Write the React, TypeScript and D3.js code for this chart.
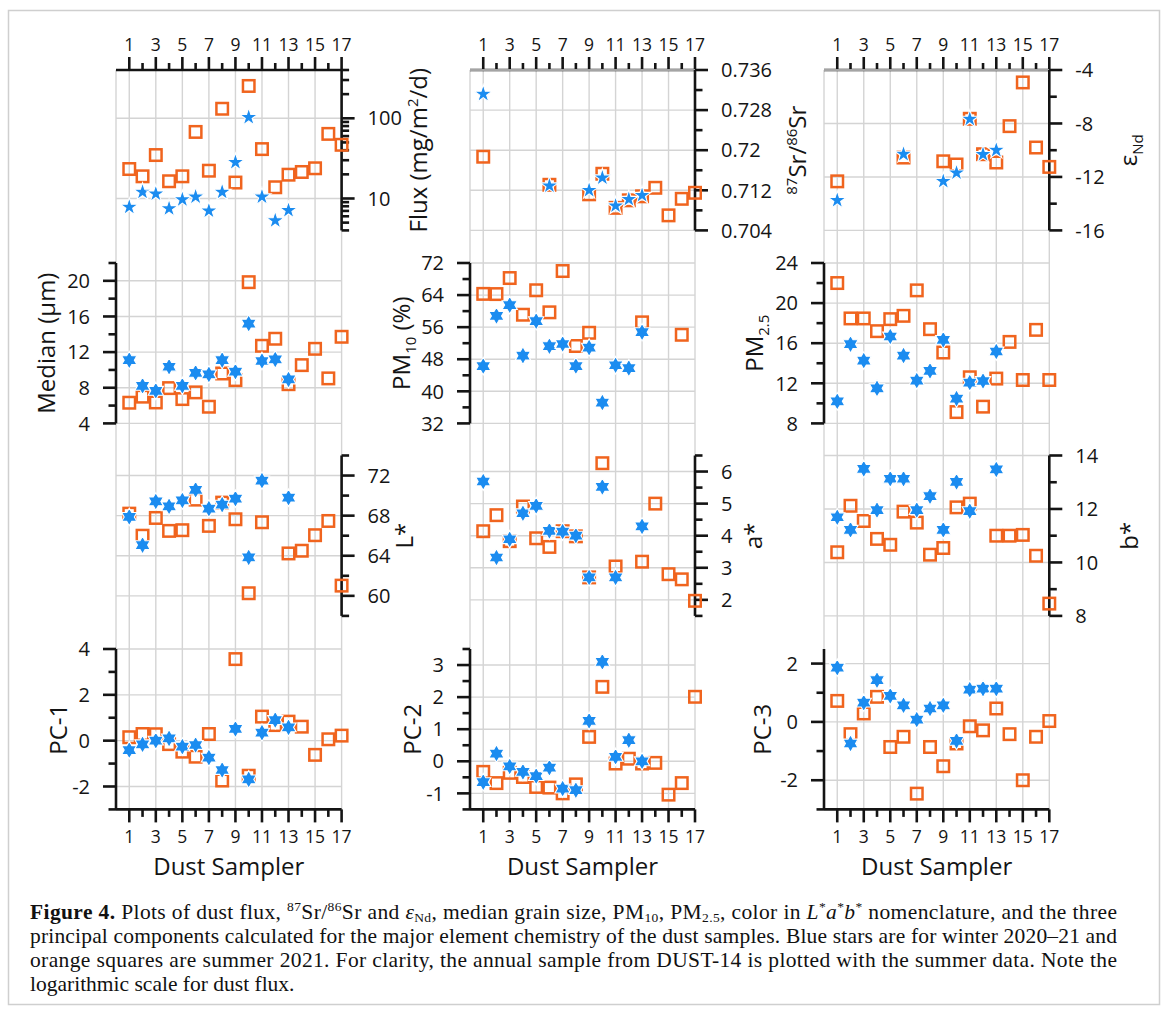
import React from "react";
import * as d3 from "d3";

// ---------------- data ----------------
const SAMPLERS = [1, 2, 3, 4, 5, 6, 7, 8, 9, 10, 11, 12, 13, 14, 15, 16, 17];
const X_LABELS = [1, 3, 5, 7, 9, 11, 13, 15, 17];
const X_MINOR = [2, 4, 6, 8, 10, 12, 14, 16];

type V = number | null;
const FLUX_WINTER: V[] = [7.8, 12.0, 11.4, 7.5, 9.7, 10.5, 7.0, 12.0, 28.2, 102.8, 10.5, 5.3, 7.1, null, null, null, null];
const FLUX_SUMMER: V[] = [23.3, 18.9, 34.8, 16.4, 18.9, 67.6, 22.2, 131.5, 15.8, 253, 41.3, 13.8, 19.8, 21.4, 23.8, 63.9, 46.7];

const SR_WINTER: V[] = [0.7312, null, null, null, null, 0.7129, null, null, 0.712, 0.7145, 0.7089, 0.7102, 0.711, null, null, null, null];
const SR_SUMMER: V[] = [0.7187, null, null, null, null, 0.7131, null, null, 0.7112, 0.7153, 0.7085, 0.71, 0.7108, 0.7125, 0.707, 0.7103, 0.7115];

const ND_WINTER: V[] = [-13.75, null, null, null, null, -10.3, null, null, -12.33, -11.7, -7.68, -10.32, -10.0, null, null, null, null];
const ND_SUMMER: V[] = [-12.33, null, null, null, null, -10.55, null, null, -10.83, -11.07, -7.65, -10.3, -10.92, -8.2, -4.93, -9.8, -11.25];

const MEDIAN_WINTER: V[] = [11.1, 8.22, 7.66, 10.36, 8.22, 9.68, 9.5, 11.1, 9.8, 15.2, 11.0, 11.18, 8.93, null, null, null, null];
const MEDIAN_SUMMER: V[] = [6.32, 7.0, 6.35, 7.96, 6.73, 7.48, 5.87, 9.6, 8.86, 19.85, 12.71, 13.5, 8.4, 10.54, 12.37, 9.05, 13.72];

const PM10_WINTER: V[] = [46.3, 58.8, 61.5, 48.9, 57.5, 51.25, 51.8, 46.3, 50.9, 37.2, 46.5, 45.8, 54.75, null, null, null, null];
const PM10_SUMMER: V[] = [64.3, 64.25, 68.25, 59.1, 65.2, 59.7, 70.0, 51.3, 54.6, null, null, null, 57.2, null, null, 54.1, null];

const PM25_WINTER: V[] = [10.2, 15.9, 14.27, 11.5, 16.67, 14.77, 12.27, 13.23, 16.33, 10.47, 12.07, 12.23, 15.17, null, null, null, null];
const PM25_SUMMER: V[] = [22.0, 18.47, 18.47, 17.2, 18.4, 18.73, 21.27, 17.4, 15.07, 9.13, 12.6, 9.67, 12.47, 16.13, 12.33, 17.33, 12.33];

const L_WINTER: V[] = [67.87, 65.06, 69.42, 68.93, 69.52, 70.58, 68.7, 69.1, 69.69, 63.83, 71.5, null, 69.79, null, null, null, null];
const L_SUMMER: V[] = [68.2, 66.0, 67.77, 66.48, 66.55, 69.6, 66.98, 69.3, 67.64, 60.26, 67.34, null, 64.23, 64.5, 66.05, 67.47, 61.02];

const A_WINTER: V[] = [5.69, 3.32, 3.89, 4.7, 4.93, 4.15, 4.13, 4.0, 2.7, 5.52, 2.7, null, 4.29, null, null, null, null];
const A_SUMMER: V[] = [4.14, 4.64, 3.83, 4.91, 3.92, 3.65, 4.14, 3.98, 2.7, 6.26, 3.04, null, 3.19, 5.0, 2.8, 2.64, 1.97];

const B_WINTER: V[] = [11.69, 11.22, 13.5, 11.96, 13.13, 13.13, 11.96, 12.48, 11.22, 13.01, 11.92, null, 13.48, null, null, null, null];
const B_SUMMER: V[] = [10.38, 12.12, 11.55, 10.88, 10.66, 11.9, 11.49, 10.29, 10.54, 12.06, 12.2, null, 11.0, 11.0, 11.03, 10.25, 8.46];

const PC1_WINTER: V[] = [-0.41, -0.16, 0.0, 0.1, -0.26, -0.19, -0.74, -1.28, 0.51, -1.69, 0.35, 0.9, 0.58, null, null, null, null];
const PC1_SUMMER: V[] = [0.15, 0.29, 0.28, -0.15, -0.48, -0.7, 0.29, -1.74, 3.56, -1.53, 1.05, 0.68, 0.83, 0.61, -0.62, 0.06, 0.22];

const PC2_WINTER: V[] = [-0.65, 0.24, -0.16, -0.33, -0.46, -0.2, -0.85, -0.9, 1.26, 3.1, 0.14, 0.66, 0.0, null, null, null, null];
const PC2_SUMMER: V[] = [-0.33, -0.68, -0.36, -0.49, -0.8, -0.82, -1.0, -0.72, 0.76, 2.32, -0.07, 0.08, -0.07, -0.05, -1.04, -0.68, 2.01];

const PC3_WINTER: V[] = [1.86, -0.74, 0.66, 1.43, 0.89, 0.57, 0.08, 0.46, 0.57, -0.65, 1.11, 1.14, 1.14, null, null, null, null];
const PC3_SUMMER: V[] = [0.72, -0.42, 0.29, 0.86, -0.86, -0.51, -2.46, -0.86, -1.52, -0.74, -0.15, -0.29, 0.46, -0.42, -2.0, -0.51, 0.03];

// tick values
const FLUX_MAJOR = [10, 100];
const FLUX_MINOR = [4, 5, 6, 7, 8, 9, 20, 30, 40, 50, 60, 70, 80, 90, 200, 300, 400];
const SR_MAJOR = [0.704, 0.712, 0.72, 0.728, 0.736];
const SR_MINOR = [0.708, 0.716, 0.724, 0.732];
const ND_MAJOR = [-16, -12, -8, -4];
const ND_MINOR = [-14, -10, -6];
const MEDIAN_MAJOR = [4, 8, 12, 16, 20];
const MEDIAN_MINOR = [6, 10, 14, 18, 22];
const PM10_MAJOR = [32, 40, 48, 56, 64, 72];
const PM10_MINOR = [36, 44, 52, 60, 68];
const PM25_MAJOR = [8, 12, 16, 20, 24];
const PM25_MINOR = [10, 14, 18, 22];
const L_MAJOR = [60, 64, 68, 72];
const L_MINOR = [58, 62, 66, 70, 74];
const A_MAJOR = [2, 3, 4, 5, 6];
const A_MINOR = [1.5, 2.5, 3.5, 4.5, 5.5, 6.5];
const B_MAJOR = [8, 10, 12, 14];
const B_MINOR = [9, 11, 13];
const PC1_MAJOR = [-2, 0, 2, 4];
const PC1_MINOR = [-3, -1, 1, 3];
const PC2_MAJOR = [-1, 0, 1, 2, 3];
const PC2_MINOR = [-1.5, -0.5, 0.5, 1.5, 2.5, 3.5];
const PC3_MAJOR = [-2, 0, 2];
const PC3_MINOR = [-3, -1, 1];

// ---------------- style / layout ----------------
const FONT = "'Open Sans', 'Noto Sans', sans-serif";
const SERIF = "'Liberation Serif', 'DejaVu Serif', serif";
const BLUE = "#1b8cf0";
const ORANGE = "#f0641e";
const GRID = "#d4d4d4";
const INK = "#141414";

const COLS = [
  { x0: 116, x1: 341.6 },
  { x0: 470, x1: 695 },
  { x0: 824, x1: 1049.3 },
];
const ROW_TOPS = [70, 263, 455.5, 649];
const ROW_H = 160.4;
const AXIS_W = 2.6;

type Seg = { t: string; sup?: boolean; sub?: boolean; b?: boolean; i?: boolean };

function Rich({ segs, small, shiftUp, shiftDown }: { segs: Seg[]; small: number; shiftUp: number; shiftDown: number }) {
  let cur = 0;
  return (
    <>
      {segs.map((s, k) => {
        const target = s.sup ? -shiftUp : s.sub ? shiftDown : 0;
        const dy = target - cur;
        cur = target;
        return (
          <tspan
            key={k}
            dy={dy !== 0 ? dy : undefined}
            fontSize={s.sup || s.sub ? small : undefined}
            fontWeight={s.b ? "bold" : undefined}
            fontStyle={s.i ? "italic" : undefined}
          >
            {s.t}
          </tspan>
        );
      })}
    </>
  );
}

type PanelDef = {
  col: number;
  row: number;
  side: "left" | "right";
  log?: boolean;
  domain: [number, number];
  major: number[];
  minor: number[];
  fmt: (v: number) => string;
  winter: V[];
  summer: V[];
  star: 5 | 6;
  title: Seg[];
  titleX: number;
};

const fmtPlain = (v: number) => String(+v.toFixed(3));

const PANELS: PanelDef[] = [
  { col: 0, row: 0, side: "right", log: true, domain: [4, 400], major: FLUX_MAJOR, minor: FLUX_MINOR, fmt: fmtPlain, winter: FLUX_WINTER, summer: FLUX_SUMMER, star: 5, title: [{ t: "Flux (mg/m" }, { t: "2", sup: true }, { t: "/d)" }], titleX: 427 },
  { col: 1, row: 0, side: "right", domain: [0.704, 0.736], major: SR_MAJOR, minor: SR_MINOR, fmt: fmtPlain, winter: SR_WINTER, summer: SR_SUMMER, star: 5, title: [{ t: "87", sup: true }, { t: "Sr/" }, { t: "86", sup: true }, { t: "Sr" }], titleX: 806 },
  { col: 2, row: 0, side: "right", domain: [-16, -4], major: ND_MAJOR, minor: ND_MINOR, fmt: fmtPlain, winter: ND_WINTER, summer: ND_SUMMER, star: 5, title: [{ t: "ε" }, { t: "Nd", sub: true }], titleX: 1137 },
  { col: 0, row: 1, side: "left", domain: [4, 22], major: MEDIAN_MAJOR, minor: MEDIAN_MINOR, fmt: fmtPlain, winter: MEDIAN_WINTER, summer: MEDIAN_SUMMER, star: 6, title: [{ t: "Median (μm)" }], titleX: 55 },
  { col: 1, row: 1, side: "left", domain: [32, 72], major: PM10_MAJOR, minor: PM10_MINOR, fmt: fmtPlain, winter: PM10_WINTER, summer: PM10_SUMMER, star: 6, title: [{ t: "PM" }, { t: "10", sub: true }, { t: " (%)" }], titleX: 410 },
  { col: 2, row: 1, side: "left", domain: [8, 24], major: PM25_MAJOR, minor: PM25_MINOR, fmt: fmtPlain, winter: PM25_WINTER, summer: PM25_SUMMER, star: 6, title: [{ t: "PM" }, { t: "2.5", sub: true }], titleX: 763 },
  { col: 0, row: 2, side: "right", domain: [58, 74], major: L_MAJOR, minor: L_MINOR, fmt: fmtPlain, winter: L_WINTER, summer: L_SUMMER, star: 6, title: [{ t: "L*" }], titleX: 413 },
  { col: 1, row: 2, side: "right", domain: [1.5, 6.5], major: A_MAJOR, minor: A_MINOR, fmt: fmtPlain, winter: A_WINTER, summer: A_SUMMER, star: 6, title: [{ t: "a*" }], titleX: 762 },
  { col: 2, row: 2, side: "right", domain: [8, 14], major: B_MAJOR, minor: B_MINOR, fmt: fmtPlain, winter: B_WINTER, summer: B_SUMMER, star: 6, title: [{ t: "b*" }], titleX: 1138 },
  { col: 0, row: 3, side: "left", domain: [-3, 4], major: PC1_MAJOR, minor: PC1_MINOR, fmt: fmtPlain, winter: PC1_WINTER, summer: PC1_SUMMER, star: 6, title: [{ t: "PC-1" }], titleX: 67 },
  { col: 1, row: 3, side: "left", domain: [-1.5, 3.5], major: PC2_MAJOR, minor: PC2_MINOR, fmt: fmtPlain, winter: PC2_WINTER, summer: PC2_SUMMER, star: 6, title: [{ t: "PC-2" }], titleX: 421 },
  { col: 2, row: 3, side: "left", domain: [-3, 2.5], major: PC3_MAJOR, minor: PC3_MINOR, fmt: fmtPlain, winter: PC3_WINTER, summer: PC3_SUMMER, star: 6, title: [{ t: "PC-3" }], titleX: 771 },
];

function hexagram(R: number): string {
  const pts: [number, number][] = [];
  for (let k = 0; k < 12; k++) {
    const r = k % 2 === 0 ? R : R / Math.sqrt(3);
    const a = -Math.PI / 2 + (k * Math.PI) / 6;
    pts.push([r * Math.cos(a), r * Math.sin(a)]);
  }
  return (d3.line()(pts) as string) + "Z";
}

const STAR5 = d3.symbol().type(d3.symbolStar).size(100)() as string;
const STAR6 = hexagram(8.8);

function scales(p: PanelDef) {
  const col = COLS[p.col];
  const top = ROW_TOPS[p.row];
  const bottom = top + ROW_H;
  const x = d3.scaleLinear().domain([0, 17]).range([col.x0, col.x1]);
  const y = (p.log ? d3.scaleLog() : d3.scaleLinear()).domain(p.domain).range([bottom, top]) as (v: number) => number;
  return { col, top, bottom, x, y };
}

function PanelFrame({ p }: { p: PanelDef }) {
  const { col, top, bottom, y } = scales(p);
  const ax = p.side === "left" ? col.x0 : col.x1;
  const dir = p.side === "left" ? -1 : 1;
  const cy = (top + bottom) / 2;
  return (
    <g>
      {p.major.map((v) => (
        <line key={"g" + v} x1={col.x0} x2={col.x1} y1={y(v)} y2={y(v)} stroke={GRID} strokeWidth={1.4} />
      ))}
      <line x1={ax} x2={ax} y1={top} y2={bottom} stroke={INK} strokeWidth={AXIS_W} />
      {p.major.map((v) => (
        <line key={"M" + v} x1={ax} x2={ax + dir * 13} y1={y(v)} y2={y(v)} stroke={INK} strokeWidth={AXIS_W} />
      ))}
      {p.minor.map((v) => (
        <line key={"m" + v} x1={ax} x2={ax + dir * 7.5} y1={y(v)} y2={y(v)} stroke={INK} strokeWidth={AXIS_W} />
      ))}
      {p.major.map((v) => (
        <text
          key={"t" + v}
          x={ax + dir * 26}
          y={y(v)}
          dy="0.36em"
          textAnchor={dir < 0 ? "end" : "start"}
          fontSize={20}
          fill={INK}
        >
          {p.fmt(v)}
        </text>
      ))}
      <text transform={`translate(${p.titleX},${cy}) rotate(-90)`} textAnchor="middle" fontSize={24} fill={INK}>
        <Rich segs={p.title} small={15} shiftUp={9} shiftDown={6} />
      </text>
    </g>
  );
}

function PanelMarks({ p }: { p: PanelDef }) {
  const { x, y } = scales(p);
  const starPath = p.star === 5 ? STAR5 : STAR6;
  const s = 11.5;
  return (
    <g>
      {SAMPLERS.map((n, i) => {
        const v = p.summer[i];
        if (v == null) return null;
        return (
          <rect key={"s" + n} x={x(n) - s / 2} y={y(v) - s / 2} width={s} height={s} fill="none" stroke={ORANGE} strokeWidth={2.5} />
        );
      })}
      {SAMPLERS.map((n, i) => {
        const v = p.winter[i];
        if (v == null) return null;
        return (
          <path key={"w" + n} d={starPath} transform={`translate(${x(n)},${y(v)})`} fill={BLUE} stroke="#ffffff" strokeWidth={1.1} />
        );
      })}
    </g>
  );
}

function ColumnFrame({ ci }: { ci: number }) {
  const col = COLS[ci];
  const x = d3.scaleLinear().domain([0, 17]).range([col.x0, col.x1]);
  const yTop = ROW_TOPS[0];
  const yBot = ROW_TOPS[3] + ROW_H;
  const cx = (col.x0 + col.x1) / 2;
  return (
    <g>
      {[0, ...X_LABELS].map((v) => (
        <line key={"vg" + v} x1={x(v)} x2={x(v)} y1={yTop} y2={yBot} stroke={GRID} strokeWidth={1.4} />
      ))}
      <line x1={col.x0} x2={col.x1} y1={yTop} y2={yTop} stroke={INK} strokeWidth={AXIS_W} />
      {X_LABELS.map((v) => (
        <line key={"tM" + v} x1={x(v)} x2={x(v)} y1={yTop} y2={yTop - 13} stroke={INK} strokeWidth={AXIS_W} />
      ))}
      {X_MINOR.map((v) => (
        <line key={"tm" + v} x1={x(v)} x2={x(v)} y1={yTop} y2={yTop - 7} stroke={INK} strokeWidth={AXIS_W} />
      ))}
      {X_LABELS.map((v) => (
        <text key={"tl" + v} x={x(v)} y={45} dy="0.36em" textAnchor="middle" fontSize={17.5} fill={INK}>
          {v}
        </text>
      ))}
      <line x1={col.x0} x2={col.x1} y1={yBot} y2={yBot} stroke={INK} strokeWidth={AXIS_W} />
      {X_LABELS.map((v) => (
        <line key={"bM" + v} x1={x(v)} x2={x(v)} y1={yBot} y2={yBot + 13} stroke={INK} strokeWidth={AXIS_W} />
      ))}
      {X_MINOR.map((v) => (
        <line key={"bm" + v} x1={x(v)} x2={x(v)} y1={yBot} y2={yBot + 7.5} stroke={INK} strokeWidth={AXIS_W} />
      ))}
      {X_LABELS.map((v) => (
        <text key={"bl" + v} x={x(v)} y={836.7} dy="0.36em" textAnchor="middle" fontSize={17.5} fill={INK}>
          {v}
        </text>
      ))}
      <text x={cx} y={875} textAnchor="middle" fontSize={24} fill={INK}>
        Dust Sampler
      </text>
    </g>
  );
}

const CAPTION: Seg[][] = [
  [
    { t: "Figure 4.", b: true },
    { t: " Plots of dust flux, " },
    { t: "87", sup: true },
    { t: "Sr/" },
    { t: "86", sup: true },
    { t: "Sr and " },
    { t: "ε", i: true },
    { t: "Nd", sub: true },
    { t: ", median grain size, PM" },
    { t: "10", sub: true },
    { t: ", PM" },
    { t: "2.5", sub: true },
    { t: ", color in " },
    { t: "L", i: true },
    { t: "*", sup: true },
    { t: "a", i: true },
    { t: "*", sup: true },
    { t: "b", i: true },
    { t: "*", sup: true },
    { t: " nomenclature, and the three" },
  ],
  [{ t: "principal components calculated for the major element chemistry of the dust samples. Blue stars are for winter 2020–21 and" }],
  [{ t: "orange squares are summer 2021. For clarity, the annual sample from DUST-14 is plotted with the summer data. Note the" }],
  [{ t: "logarithmic scale for dust flux." }],
];
const CAPTION_JUSTIFY = [true, true, true, false];

export default function App() {
  return (
    <svg
      width={1167}
      height={1015}
      viewBox="0 0 1167 1015"
      style={{ position: "absolute", left: 0, top: 0, background: "#ffffff" }}
      fontFamily={FONT}
    >
      <rect x={0} y={0} width={1167} height={1015} fill="#ffffff" />
      <rect x={8.5} y={10.5} width={1151} height={994} fill="none" stroke="#cfcfcf" strokeWidth={1.5} />
      {COLS.map((_, ci) => (
        <ColumnFrame key={"c" + ci} ci={ci} />
      ))}
      {PANELS.map((p, k) => (
        <PanelFrame key={"f" + k} p={p} />
      ))}
      {PANELS.map((p, k) => (
        <PanelMarks key={"k" + k} p={p} />
      ))}
      <g fontFamily={SERIF} fontSize={21.5} fill="#111">
        {CAPTION.map((line, li) => (
          <text
            key={"cap" + li}
            x={30}
            y={919 + li * 24}
            textLength={CAPTION_JUSTIFY[li] ? 1087 : undefined}
            lengthAdjust={CAPTION_JUSTIFY[li] ? "spacing" : undefined}
          >
            <Rich segs={line} small={13.5} shiftUp={8} shiftDown={3} />
          </text>
        ))}
      </g>
    </svg>
  );
}
